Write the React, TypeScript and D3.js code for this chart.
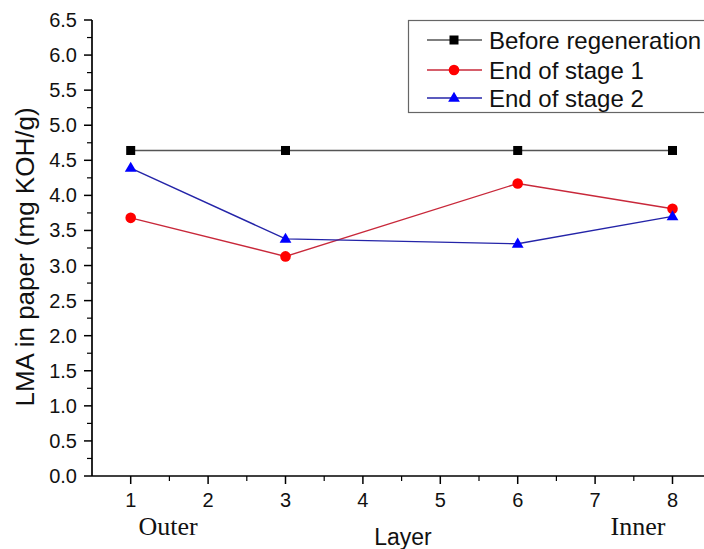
import React from "react";
import * as d3 from "d3";

// Layer positions and LMA values (mg KOH/g)
const layers = [1, 3, 6, 8];
const beforeRegeneration = [4.64, 4.64, 4.64, 4.64];
const endOfStage1 = [3.68, 3.13, 4.17, 3.81];
const endOfStage2 = [4.39, 3.38, 3.31, 3.7];

const xTicks = [1, 2, 3, 4, 5, 6, 7, 8];
const yTicks = [0, 0.5, 1, 1.5, 2, 2.5, 3, 3.5, 4, 4.5, 5, 5.5, 6, 6.5];

const seriesNames = ["Before regeneration", "End of stage 1", "End of stage 2"];

const W = 704;
const H = 549;
const left = 92;
const bottom = 476;
const top = 20;

const x = d3.scaleLinear().domain([0.5, 8.5]).range([left, left + 8 * 77.4]);
const y = d3.scaleLinear().domain([0, 6.5]).range([bottom, top]);

const font = "Arial, 'Liberation Sans', sans-serif";
const serif = "'Times New Roman', 'Liberation Serif', serif";

type Series = {
  name: string;
  values: number[];
  line: string;
  fill: string;
  marker: "square" | "circle" | "triangle";
  width: number;
};

const series: Series[] = [
  { name: seriesNames[0], values: beforeRegeneration, line: "#555555", fill: "#000000", marker: "square", width: 1.7 },
  { name: seriesNames[1], values: endOfStage1, line: "#c8283a", fill: "#ff0000", marker: "circle", width: 1.4 },
  { name: seriesNames[2], values: endOfStage2, line: "#2424a8", fill: "#0000ff", marker: "triangle", width: 1.4 },
];

function Marker({ kind, cx, cy, fill }: { kind: string; cx: number; cy: number; fill: string }) {
  if (kind === "square") {
    return <rect x={cx - 4.5} y={cy - 4.5} width={9} height={9} fill={fill} />;
  }
  if (kind === "circle") {
    return <circle cx={cx} cy={cy} r={5.3} fill={fill} />;
  }
  const s = 6.2;
  return (
    <path
      d={`M${cx},${cy - s}L${cx + s * 0.95},${cy + s * 0.62}L${cx - s * 0.95},${cy + s * 0.62}Z`}
      fill={fill}
    />
  );
}

export default function App() {
  const line = d3
    .line<[number, number]>()
    .x((d) => x(d[0]))
    .y((d) => y(d[1]));

  const minorY = d3.range(0.25, 6.5, 0.5);
  const minorX = d3.range(1.5, 8.5, 1);

  const legendRows = [40, 70, 98];

  return (
    <div style={{ position: "absolute", left: 0, top: 0 }}>
      <svg width={W} height={H} style={{ display: "block", background: "#fff" }}>
        {/* Y axis */}
        <line x1={left} x2={left} y1={top} y2={bottom} stroke="#000" strokeWidth={1.7} />
        {yTicks.map((t) => (
          <g key={`y${t}`}>
            <line x1={left - 8} x2={left} y1={y(t)} y2={y(t)} stroke="#000" strokeWidth={1.5} />
            <text
              x={left - 15}
              y={y(t)}
              textAnchor="end"
              dominantBaseline="central"
              fontFamily={font}
              fontSize={20}
              fill="#111"
            >
              {t.toFixed(1)}
            </text>
          </g>
        ))}
        {minorY.map((t) => (
          <line key={`ym${t}`} x1={left - 5} x2={left} y1={y(t)} y2={y(t)} stroke="#000" strokeWidth={1.2} />
        ))}

        {/* X axis */}
        <line x1={left} x2={W} y1={bottom} y2={bottom} stroke="#000" strokeWidth={1.7} />
        {xTicks.map((t) => (
          <g key={`x${t}`}>
            <line x1={x(t)} x2={x(t)} y1={bottom} y2={bottom + 8} stroke="#000" strokeWidth={1.5} />
            <text x={x(t)} y={507} textAnchor="middle" fontFamily={font} fontSize={20} fill="#111">
              {t}
            </text>
          </g>
        ))}
        {minorX.map((t) => (
          <line key={`xm${t}`} x1={x(t)} x2={x(t)} y1={bottom} y2={bottom + 5} stroke="#000" strokeWidth={1.2} />
        ))}

        {/* Axis titles */}
        <text x={403} y={545} textAnchor="middle" fontFamily={font} fontSize={23} fill="#111">
          Layer
        </text>
        <text
          transform={`translate(34, ${y(3.25) + 9}) rotate(-90)`}
          textAnchor="middle"
          fontFamily={font}
          fontSize={26}
          fill="#111"
        >
          LMA in paper (mg KOH/g)
        </text>
        <text x={168} y={535} textAnchor="middle" fontFamily={serif} fontSize={26} fill="#111">
          Outer
        </text>
        <text x={638} y={535} textAnchor="middle" fontFamily={serif} fontSize={26} fill="#111">
          Inner
        </text>

        {/* Series */}
        {series.map((s) => {
          const pts: [number, number][] = layers.map((l, i) => [l, s.values[i]]);
          return (
            <g key={s.name}>
              <path d={line(pts) || ""} fill="none" stroke={s.line} strokeWidth={s.width} />
              {pts.map((p, i) => (
                <Marker key={i} kind={s.marker} cx={x(p[0])} cy={y(p[1])} fill={s.fill} />
              ))}
            </g>
          );
        })}

        {/* Legend */}
        <rect x={408.5} y={20.5} width={310} height={92} fill="#fff" stroke="#666" strokeWidth={1.2} />
        {series.map((s, i) => (
          <g key={`lg${i}`}>
            <line x1={427} x2={482} y1={legendRows[i]} y2={legendRows[i]} stroke={s.line} strokeWidth={s.width} />
            <Marker kind={s.marker} cx={454} cy={legendRows[i]} fill={s.fill} />
            <text
              x={489}
              y={legendRows[i]}
              dominantBaseline="central"
              fontFamily={font}
              fontSize={24}
              fill="#111"
            >
              {s.name}
            </text>
          </g>
        ))}
      </svg>
    </div>
  );
}
